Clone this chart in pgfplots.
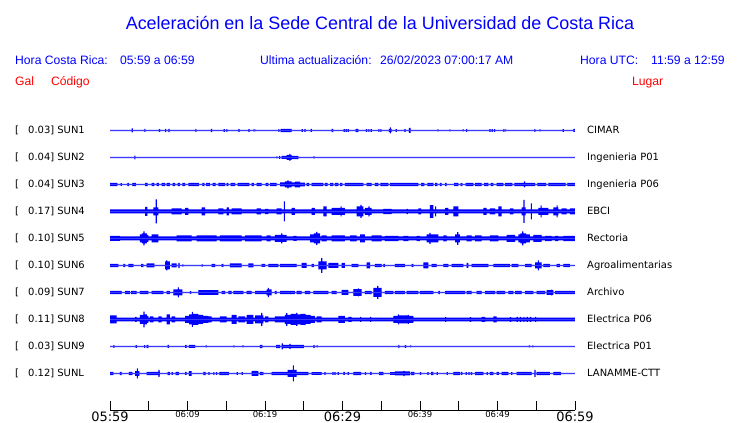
\documentclass[border=0pt]{standalone}
\usepackage{fontspec}
\setmainfont{Liberation Sans}
\newfontfamily\dv{DejaVu Sans}
\usepackage{pgfplots}
\pgfplotsset{compat=1.18}
\usepackage{pgfplotstable}
\definecolor{pb}{RGB}{0,0,255}
\definecolor{pr}{RGB}{255,0,0}

% envelope tables: t (minutes after 05:59), a (half amplitude, px)
\pgfplotstableread{
t a
0 0.6
2.80 2.0
2.95 0.6
4.43 1.5
4.58 0.6
6.32 1.3
6.47 0.6
7.10 1.7
7.25 0.6
7.53 1.7
7.68 0.6
11.01 1.3
11.16 0.6
13.03 1.7
13.18 0.6
14.67 1.3
14.82 0.6
15.01 1.3
15.16 0.6
16.56 1.3
16.71 0.6
17.85 1.3
18.00 0.6
18.50 1.0
18.75 0.6
21.72 1.3
21.87 0.6
22.02 1.7
23.44 0.6
24.73 1.3
24.88 0.6
25.08 1.3
25.23 0.6
25.89 1.5
26.04 0.6
28.60 1.7
28.80 0.6
30.15 1.3
30.30 0.6
30.41 1.3
30.56 0.6
30.67 1.3
30.82 0.6
31.70 1.7
32.04 0.6
33.03 1.3
33.18 0.6
33.33 1.3
33.48 0.6
33.63 1.3
33.78 0.6
34.62 1.3
34.77 0.6
34.88 1.3
35.03 0.6
36.00 1.7
36.10 3.0
36.25 1.7
36.35 0.6
36.86 1.3
37.01 0.6
37.98 1.3
38.13 0.6
38.58 2.5
38.78 0.6
42.24 1.0
42.39 0.6
43.78 1.0
43.93 0.6
45.51 1.0
45.66 0.6
45.94 1.3
46.09 0.6
48.95 1.3
49.10 0.6
49.25 1.3
49.40 0.6
49.55 1.3
49.70 0.6
50.75 1.3
50.90 0.6
50.97 1.0
51.12 0.6
54.75 1.3
54.90 0.6
55.40 1.0
55.55 0.6
58.41 1.3
58.56 0.6
59.78 1.5
60 1.5
}\sunA

\pgfplotstableread{
t a
0 0.6
3.14 1.8
3.29 0.6
21.46 1.0
21.61 0.6
21.81 1.5
21.96 0.6
22.15 1.5
22.80 2.5
23.14 3.5
23.29 2.5
23.44 1.7
24.30 0.6
26.24 1.0
26.39 0.6
60 0.6
}\sunB

\pgfplotstableread{
t a
0 1.6
0.95 0.7
1.38 1.3
1.53 0.7
2.24 1.6
2.45 0.7
2.88 1.6
3.35 0.7
4.52 1.6
4.86 0.7
5.38 1.6
5.72 0.7
6.02 1.6
6.32 0.7
6.67 1.6
7.10 0.7
7.31 1.6
7.74 0.7
8.09 1.6
8.39 0.7
8.73 1.6
9.03 0.7
9.33 1.6
9.68 0.7
10.11 1.6
11.48 0.7
11.91 1.6
12.17 0.7
12.39 1.6
12.90 0.7
13.25 1.6
13.63 0.7
13.98 1.6
14.84 0.7
15.05 1.6
15.27 0.7
15.57 1.6
16.13 0.7
16.47 1.6
17.98 0.7
18.28 1.6
18.58 0.7
18.92 1.6
19.57 0.7
20.09 1.6
20.43 0.7
20.65 1.6
21.51 0.7
21.94 2.0
22.58 3.0
22.90 4.0
23.05 3.0
23.44 2.0
23.87 2.8
24.52 1.8
25.16 0.7
25.38 1.6
25.68 0.7
26.02 1.6
27.53 0.7
27.74 1.6
28.09 0.7
28.39 1.6
28.82 0.7
29.03 1.6
29.46 0.7
29.68 1.6
29.98 0.7
30.32 1.6
32.69 0.7
33.12 1.6
33.76 0.7
34.19 1.6
34.62 0.7
34.88 1.6
35.91 0.7
36.13 1.6
39.78 0.7
40.13 1.6
40.56 0.7
40.95 1.6
41.72 0.7
41.94 1.6
42.24 0.7
42.58 1.6
42.80 0.7
43.23 1.6
43.44 0.7
44.39 1.6
44.95 0.7
45.25 1.6
45.46 0.7
45.89 1.6
46.88 0.7
47.10 1.6
47.96 0.7
48.26 1.6
48.82 0.7
49.12 1.6
49.46 0.7
49.89 1.6
50.75 0.7
50.97 1.6
51.91 0.7
52.17 1.6
53.40 3.0
53.55 1.6
54.84 0.7
55.14 1.6
56.26 0.7
56.56 1.6
58.80 0.7
59.01 1.6
60 1.6
}\sunC

\pgfplotstableread{
t a
0 2.0
4.52 4.5
4.82 2.0
5.59 4.0
5.90 12.0
6.05 4.0
6.24 2.0
7.96 3.0
9.25 2.0
9.68 3.5
10.11 2.0
11.83 4.0
12.26 2.0
13.98 3.0
14.62 2.0
15.05 4.0
15.35 2.0
15.70 3.0
16.99 2.0
18.92 3.0
19.48 2.0
20.00 2.7
20.43 2.0
21.51 3.0
22.15 2.0
22.42 10.0
22.57 2.0
23.44 3.5
23.87 2.0
26.02 3.5
26.45 2.0
27.53 5.0
27.96 2.0
28.60 3.5
29.75 5.0
29.90 3.5
30.32 2.0
31.83 5.0
32.32 6.5
32.47 5.0
32.69 2.0
32.90 3.5
33.35 5.0
33.50 3.5
33.76 2.0
35.27 2.7
36.34 2.0
38.28 2.7
38.43 2.0
39.78 3.0
40.13 2.0
41.29 6.3
41.72 2.0
41.94 5.0
42.09 2.0
43.23 3.5
43.66 2.0
44.30 5.0
44.95 2.0
48.17 3.5
48.60 2.0
49.03 3.0
49.68 2.0
50.11 5.0
50.54 2.0
51.61 3.0
52.04 2.0
53.12 4.0
53.35 11.5
53.50 4.0
53.63 2.0
54.30 8.0
54.45 2.0
55.27 3.5
55.55 6.0
55.70 3.5
56.56 2.0
57.20 4.0
57.62 6.0
57.77 4.0
57.85 2.0
58.28 3.0
58.92 2.0
59.35 3.0
60 3.0
}\sunD

\pgfplotstableread{
t a
0 2.5
1.29 2.0
3.87 4.0
4.10 5.0
4.32 7.0
4.47 5.0
4.75 3.5
4.95 2.0
5.38 4.0
6.24 2.0
8.60 3.0
10.54 2.0
11.18 3.0
13.76 2.0
14.19 3.0
16.99 2.0
17.42 3.0
19.57 2.0
20.22 3.0
20.73 2.0
21.29 3.5
22.08 5.0
22.23 3.5
22.80 2.0
23.66 2.5
24.09 2.0
25.81 4.0
26.30 5.0
26.60 6.5
26.75 5.0
27.10 2.0
27.31 3.0
27.96 2.0
28.60 3.0
30.32 2.0
30.97 3.0
31.83 2.0
32.26 4.0
32.90 2.0
33.76 3.0
35.05 2.0
35.48 2.7
37.20 2.0
37.85 2.7
38.49 2.0
39.57 2.7
40.00 2.0
40.86 4.0
41.22 5.5
41.37 4.0
42.37 2.0
43.01 3.0
43.44 2.0
44.52 4.0
44.80 6.3
44.95 4.0
45.16 2.0
46.02 3.0
46.67 2.0
47.10 3.0
47.96 2.0
49.03 3.0
50.11 2.0
51.18 3.5
52.26 2.0
52.69 4.0
52.95 5.0
53.18 7.0
53.33 5.0
53.70 4.0
54.19 2.0
54.62 3.5
55.70 2.0
56.13 2.7
56.99 2.0
57.42 2.7
57.85 2.0
58.49 2.7
60 2.7
}\sunE

\pgfplotstableread{
t a
0 1.7
1.08 0.6
1.72 1.7
1.94 0.6
2.37 1.7
3.01 0.6
4.00 1.7
4.30 0.6
4.73 2.0
5.72 0.6
7.10 4.0
7.24 5.0
7.39 4.0
7.74 0.6
7.96 2.0
8.60 0.6
8.82 2.7
8.97 0.6
9.33 1.2
9.48 0.6
11.83 1.2
11.98 0.6
13.12 1.7
13.55 0.6
14.41 1.7
14.62 0.6
15.48 2.0
16.99 0.6
17.85 2.0
18.49 0.6
19.57 1.5
20.00 0.6
20.43 1.7
21.72 0.6
21.94 1.7
24.09 0.6
24.73 2.5
25.38 0.6
26.02 1.7
26.32 0.6
26.88 4.0
27.24 7.3
27.39 4.0
27.96 0.6
28.17 2.5
29.46 0.6
29.89 2.5
30.32 0.6
31.18 1.7
32.04 0.6
33.12 3.0
33.55 0.6
34.19 1.7
35.05 0.6
35.27 1.7
35.48 0.6
36.77 1.7
38.06 0.6
38.92 1.7
39.14 0.6
40.43 3.0
41.08 0.6
41.51 1.7
42.15 0.6
43.01 1.7
43.66 0.6
44.09 1.7
45.59 0.6
46.02 2.5
46.24 0.6
46.67 1.7
48.82 0.6
49.46 1.7
51.61 0.6
51.83 1.7
52.69 0.6
53.55 1.7
54.41 0.6
54.84 3.0
55.20 5.0
55.35 3.0
55.70 0.6
55.91 1.7
56.77 0.6
57.63 1.7
58.06 0.6
58.49 1.7
59.35 0.6
60 0.6
}\sunF

\pgfplotstableread{
t a
0 1.7
1.51 0.7
1.94 1.7
2.58 0.7
2.71 1.7
3.44 0.7
3.87 1.7
4.95 0.7
5.38 1.7
6.88 0.7
7.31 1.7
7.74 0.7
8.17 3.0
8.75 5.0
8.90 3.0
9.33 0.7
10.32 1.3
10.47 0.7
11.40 2.3
13.98 0.7
14.41 1.7
14.84 0.7
15.27 1.7
15.70 0.7
15.91 1.7
17.20 0.7
17.63 1.7
18.28 0.7
18.71 1.7
20.22 3.0
20.36 4.7
20.51 3.0
20.86 0.7
21.29 1.7
21.51 0.7
21.94 1.7
23.87 0.7
24.09 1.7
24.73 0.7
25.16 1.7
25.81 0.7
26.24 1.7
28.17 0.7
28.60 1.7
29.25 0.7
29.89 2.5
30.75 0.7
31.40 3.3
31.97 4.0
32.12 3.3
32.47 0.7
32.90 1.7
33.76 0.7
33.98 4.5
34.47 6.5
34.62 4.5
35.05 0.7
35.48 1.7
36.56 0.7
36.77 1.7
38.06 0.7
38.28 1.7
39.78 0.7
40.00 1.7
41.72 0.7
42.37 1.7
42.58 0.7
43.23 1.7
45.81 0.7
46.02 1.7
46.67 0.7
47.31 1.7
47.96 0.7
48.39 1.7
49.68 0.7
49.89 1.7
50.97 0.7
51.40 1.7
52.04 0.7
52.26 1.7
53.12 0.7
53.55 1.7
54.62 0.7
55.05 1.7
56.13 0.7
56.34 2.3
56.92 2.8
57.07 2.3
57.20 0.7
57.42 1.7
60 1.7
}\sunG

\pgfplotstableread{
t a
0 4.0
0.86 1.8
3.23 2.5
3.44 1.8
3.87 4.5
4.32 7.8
4.47 5.0
4.75 3.5
4.95 1.8
5.16 3.0
5.59 1.8
6.24 3.0
6.67 1.8
7.31 5.0
7.74 1.8
7.96 3.0
8.39 1.8
9.68 3.5
10.20 5.0
10.55 7.5
10.70 5.5
11.40 4.5
12.00 3.5
12.69 3.0
13.12 1.8
14.19 3.0
15.05 1.8
15.70 4.5
16.34 1.8
16.56 3.0
17.42 1.8
17.63 4.5
18.49 1.8
18.71 4.0
19.50 6.7
19.65 4.0
19.78 1.8
20.00 3.0
20.43 1.8
21.29 3.0
22.58 4.5
22.73 6.3
22.88 4.5
23.30 5.5
24.02 6.5
24.17 5.0
24.60 5.5
25.09 5.7
25.24 4.5
25.90 3.5
26.45 1.8
26.67 3.0
27.31 1.8
29.46 3.5
30.32 1.8
30.75 2.5
31.18 1.8
32.26 2.5
32.41 1.8
33.55 2.5
33.70 1.8
36.56 3.5
37.13 5.0
37.28 4.0
38.42 4.5
38.57 3.5
39.14 1.8
43.23 2.3
43.38 1.8
46.45 2.3
46.60 1.8
47.96 2.5
48.39 1.8
49.46 3.0
49.89 1.8
51.61 2.3
51.76 1.8
52.47 2.5
52.62 1.8
52.90 2.5
53.05 1.8
53.33 2.5
53.48 1.8
53.76 2.5
53.91 1.8
54.19 2.5
54.34 1.8
54.84 2.5
54.99 1.8
60 1.8
}\sunH

\pgfplotstableread{
t a
0 0.6
0.43 1.3
0.58 0.6
3.31 1.3
3.46 0.6
4.39 1.3
4.54 0.6
4.73 1.7
4.95 0.6
7.44 1.5
7.59 0.6
9.68 1.5
9.89 0.6
10.19 1.5
10.97 0.6
12.34 1.0
12.49 0.6
15.91 1.0
16.06 0.6
17.08 1.0
17.23 0.6
19.35 1.7
19.66 0.6
21.42 1.7
21.94 0.6
22.15 3.0
22.30 1.7
23.16 2.5
23.31 1.7
25.03 0.6
26.24 1.3
26.39 0.6
26.67 1.0
26.82 0.6
37.20 1.7
37.35 0.6
38.06 1.3
38.21 0.6
38.71 1.0
38.86 0.6
54.06 1.0
54.21 0.6
54.49 1.0
54.64 0.6
60 0.6
}\sunI

\pgfplotstableread{
t a
0 1.7
0.43 0.6
1.29 1.7
1.51 0.6
2.45 1.7
2.88 0.6
3.23 2.3
3.46 5.0
3.61 2.3
3.78 0.6
4.73 1.7
6.25 3.5
6.40 1.7
6.45 0.6
7.44 1.7
7.74 0.6
7.96 1.3
8.11 0.6
8.47 1.7
8.90 0.6
9.68 1.5
9.89 0.6
10.19 2.3
10.54 0.6
12.04 1.7
12.34 0.6
12.69 1.3
12.84 0.6
13.33 1.3
13.48 0.6
13.68 1.3
13.83 0.6
14.11 1.7
15.35 0.6
16.34 1.3
16.49 0.6
16.99 1.3
17.14 0.6
18.28 2.5
19.14 0.6
19.35 1.7
19.78 0.6
20.86 1.7
22.92 3.5
23.59 8.0
23.74 3.5
24.09 1.7
25.59 0.6
26.02 1.3
27.31 0.6
27.66 1.3
27.81 0.6
28.69 1.3
28.84 0.6
28.95 1.3
29.10 0.6
29.38 1.3
29.53 0.6
30.11 1.5
30.32 0.6
30.67 1.3
30.82 0.6
31.40 1.7
32.39 0.6
32.90 1.3
33.05 0.6
33.55 1.5
33.76 0.6
34.71 1.7
35.27 0.6
36.13 1.3
36.77 2.0
37.87 2.7
38.02 2.0
38.71 0.6
38.84 1.7
39.27 0.6
40.00 1.3
40.15 0.6
40.95 1.3
41.10 0.6
41.42 1.7
41.72 0.6
42.15 1.3
42.30 0.6
43.44 1.3
43.59 0.6
44.30 1.7
45.16 0.6
45.29 1.5
45.46 0.6
45.89 1.3
46.04 0.6
46.24 1.3
46.39 0.6
46.58 1.3
46.73 0.6
47.10 1.7
48.17 0.6
48.60 1.3
48.75 0.6
49.03 1.7
49.46 0.6
49.89 1.5
50.19 0.6
50.54 1.7
51.40 0.6
51.76 1.3
51.91 0.6
52.47 1.7
54.41 0.6
54.77 3.5
54.92 0.6
55.05 1.7
56.77 0.6
57.20 1.7
58.19 0.6
60 0.6
}\sunL

% one trace: #1 table, #2 vertical position of its centre line (bp from the bottom)
\newcommand\trace[2]{%
\begin{axis}[at={(110bp,#2bp)}, anchor=west, scale only axis,
  width=465bp, height=27bp, xmin=0, xmax=60, ymin=-13.5, ymax=13.5,
  hide axis, clip=false]
\addplot[const plot, fill=pb, draw=none] table[x=t, y=a] {#1} \closedcycle;
\addplot[const plot, fill=pb, draw=none] table[x=t, y expr={-\thisrow{a}}] {#1} \closedcycle;
\end{axis}}

\begin{document}
\begin{tikzpicture}
\useasboundingbox (0,0) rectangle (740bp,423bp);
\trace{\sunA}{292.5}
\trace{\sunB}{265.5}
\trace{\sunC}{238.5}
\trace{\sunD}{211.5}
\trace{\sunE}{184.5}
\trace{\sunF}{157.5}
\trace{\sunG}{130.5}
\trace{\sunH}{103.5}
\trace{\sunI}{76.5}
\trace{\sunL}{49.5}

\begin{axis}[at={(110bp,13bp)}, anchor=south west, scale only axis,
  width=465bp, height=20bp, xmin=0, xmax=60, ymin=0, ymax=1,
  axis y line=none, axis x line=bottom,
  x axis line style={-, black, line width=0.8pt},
  xtick={0,5,...,60}, tick align=inside, major tick length=9bp,
  xtick style={black, line width=0.8pt},
  xticklabels={{\fontsize{13}{13}\selectfont 05:59},{},{\fontsize{8.5}{9}\selectfont 06:09},{},{\fontsize{8.5}{9}\selectfont 06:19},{},{\fontsize{13}{13}\selectfont 06:29},{},{\fontsize{8.5}{9}\selectfont 06:39},{},{\fontsize{8.5}{9}\selectfont 06:49},{},{\fontsize{13}{13}\selectfont 06:59}},
  xticklabel style={font=\dv, inner sep=1.5bp, text=black}]
\addplot[draw=none, forget plot] coordinates {(0,0) (60,1)};
\end{axis}

\begin{scope}[shift={(0,423bp)}, x=1bp, y=-1bp]
\node[anchor=base, text=pb, inner sep=0, font=\fontsize{18}{20}\selectfont] at (380,29.5) {Aceleración en la Sede Central de la Universidad de Costa Rica};
\begin{scope}[every node/.style={anchor=base west, inner sep=0, font=\fontsize{12.2}{14}\selectfont}]
\node[text=pb] at (15,64.5) {Hora Costa Rica:};
\node[text=pb] at (120,64.5) {05:59 a 06:59};
\node[text=pb] at (260,64.5) {Ultima actualización:};
\node[text=pb] at (380,64.5) {26/02/2023 07:00:17 AM};
\node[text=pb] at (580,64.5) {Hora UTC:};
\node[text=pb] at (651,64.5) {11:59 a 12:59};
\node[text=pr] at (15,85.5) {Gal};
\node[text=pr] at (51,85.5) {Código};
\node[text=pr] at (632,85.5) {Lugar};
\end{scope}
\begin{scope}[every node/.style={anchor=base west, inner sep=0, font=\dv\fontsize{10}{12}\selectfont}]
\foreach \yy/\vv/\cc/\pp in {130/0.03/SUN1/CIMAR, 157/0.04/SUN2/Ingenieria P01, 184/0.04/SUN3/Ingenieria P06, 211/0.17/SUN4/EBCI, 238/0.10/SUN5/Rectoria, 265/0.10/SUN6/Agroalimentarias, 292/0.09/SUN7/Archivo, 319/0.11/SUN8/Electrica P06, 346/0.03/SUN9/Electrica P01, 373/0.12/SUNL/LANAMME-CTT}{
  \node at (15,\yy+3.8) {[};
  \node at (28,\yy+3.8) {\vv] \cc};
  \node at (587,\yy+3.8) {\pp};
}
\end{scope}
\end{scope}
\end{tikzpicture}
\end{document}
